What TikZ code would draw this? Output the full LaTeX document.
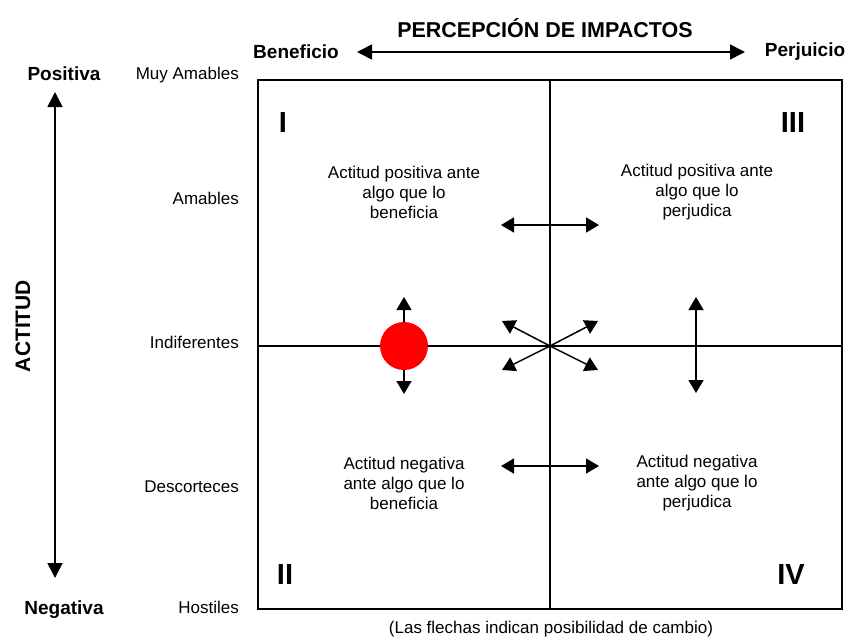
\documentclass[tikz,border=0pt]{standalone}
\usepackage{fontspec}
\setmainfont{Liberation Sans}
\usetikzlibrary{arrows.meta}
\begin{document}
\begin{tikzpicture}[x=1pt,y=-1pt,
  lab/.style={font=\fontsize{17}{20}\selectfont, inner sep=0pt},
  blab/.style={font=\bfseries\fontsize{19}{23}\selectfont, inner sep=0pt},
  quad/.style={font=\fontsize{17}{20}\selectfont, align=center, inner sep=0pt},
  roman/.style={font=\bfseries\fontsize{29}{33}\selectfont, inner sep=0pt},
  frame/.style={line width=2pt},
  darr/.style={line width=1.5pt, {Triangle[length=13pt,width=15pt]}-{Triangle[length=13pt,width=15pt]}},
  sarr/.style={line width=1.5pt, -{Triangle[length=13pt,width=15pt]}},
  bigarr/.style={line width=1.6pt, {Triangle[length=15pt,width=15pt]}-{Triangle[length=15pt,width=15pt]}}
]
\useasboundingbox (0,0) rectangle (848,638);

% frame and axes
\coordinate (tl) at (258,80);
\coordinate (br) at (842,609);
\coordinate (tm) at (550,80);
\coordinate (bm) at (550,609);
\coordinate (lm) at (258,346);
\coordinate (rm) at (842,346);
\draw[frame] (tl) rectangle (br);
\draw[frame] (tm) -- (bm);
\draw[frame] (lm) -- (rm);

% title and top axis
\node[font=\bfseries\fontsize{21.5}{25}\selectfont, inner sep=0pt] (title) at (545,28) {PERCEPCIÓN DE IMPACTOS};
\node[blab] (ben) at (296,52) {Beneficio};
\node[blab] (per) at (805,52) {Perjuicio};
\coordinate (ta) at (357,52);
\coordinate (tb) at (745,52);
\draw[bigarr] (ta) -- (tb);

% left axis
\node[blab] (pos) at (64,74) {Positiva};
\node[blab] (neg) at (64,610) {Negativa};
\coordinate (la) at (55,92);
\coordinate (lb) at (55,578);
\draw[bigarr] (la) -- (lb);
\node[font=\bfseries\fontsize{21}{25}\selectfont, inner sep=0pt, rotate=90] (act) at (23,326) {ACTITUD};

% scale labels
\node[lab, anchor=east] (muy) at (239,75) {Muy Amables};
\node[lab, anchor=east] (ama) at (239,198) {Amables};
\node[lab, anchor=east] (ind) at (239,342) {Indiferentes};
\node[lab, anchor=east] (des) at (239,487) {Descorteces};
\node[lab, anchor=east] (hos) at (239,607) {Hostiles};

% roman numerals
\node[roman] (q1) at (283,123) {I};
\node[roman] (q3) at (793,123) {III};
\node[roman] (q2) at (285,575) {II};
\node[roman] (q4) at (791,575) {IV};

% quadrant texts
\node[quad] (t1) at (404,192) {Actitud positiva ante\\algo que lo\\beneficia};
\node[quad] (t3) at (697,192) {Actitud positiva ante\\algo que lo\\perjudica};
\node[quad] (t2) at (404,483) {Actitud negativa\\ante algo que lo\\beneficia};
\node[quad] (t4) at (697,483) {Actitud negativa\\ante algo que lo\\perjudica};

% horizontal change arrows
\coordinate (h1a) at (501,225);
\coordinate (h1b) at (599,225);
\coordinate (h2a) at (501,466);
\coordinate (h2b) at (599,466);
\draw[darr] (h1a) -- (h1b);
\draw[darr] (h2a) -- (h2b);

% red dot with arrows
\node[circle, fill=red, minimum size=48pt, inner sep=0pt] (dot) at (404,346) {};
\coordinate (dotU) at (404,297);
\coordinate (dotD) at (404,394);
\draw[sarr] (dot.north) -- (dotU);
\draw[sarr] (dot.south) -- (dotD);

% cross arrows at centre
\coordinate (ctr) at (550,346);
\coordinate (xul) at (502,321);
\coordinate (xur) at (598,321);
\coordinate (xdl) at (502,370);
\coordinate (xdr) at (598,370);
\draw[sarr] (ctr) -- (xul);
\draw[sarr] (ctr) -- (xur);
\draw[sarr] (ctr) -- (xdl);
\draw[sarr] (ctr) -- (xdr);

% vertical arrow right
\coordinate (va) at (696,297);
\coordinate (vb) at (696,393);
\draw[darr] (va) -- (vb);

% caption
\node[lab] (cap) at (551,629) {(Las flechas indican posibilidad de cambio)};
\end{tikzpicture}
\end{document}
